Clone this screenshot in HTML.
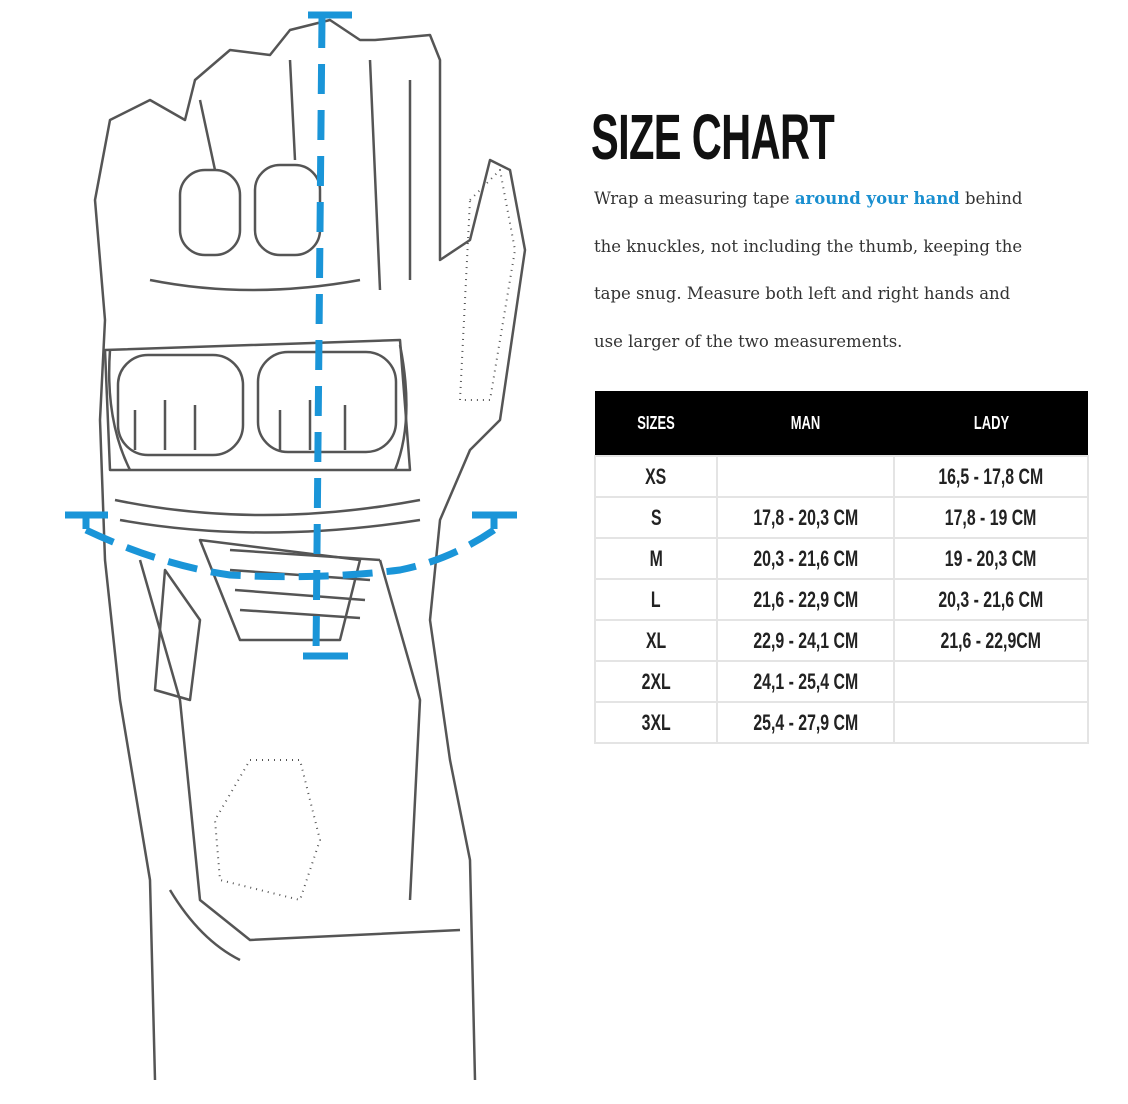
<!DOCTYPE html>
<html><head><meta charset="utf-8"><style>
body{margin:0;width:1128px;height:1104px;background:#fff;overflow:hidden;position:relative;font-family:"Liberation Sans",sans-serif}
.title{position:absolute;left:591px;top:100px;font:bold 64px "Liberation Sans",sans-serif;transform:scaleX(0.65);transform-origin:left top;color:#111;letter-spacing:-1px;white-space:nowrap}
.p{position:absolute;left:594px;top:175px;font:16.5px "DejaVu Serif",serif;line-height:47.5px;color:#333;width:520px;white-space:nowrap}
.p b{color:#1a8fd0}
table{position:absolute;left:594px;top:391px;border-collapse:collapse;width:495px;font:bold 22px "Liberation Sans",sans-serif;color:#222}
th{background:#000;color:#fff;height:62px;font-size:18px}
td{border:2px solid #e4e4e4;height:39px;text-align:center;padding:0}
td span,th span{display:inline-block;transform:scaleX(0.72);white-space:nowrap}
</style></head><body>
<svg width="560" height="1104" style="position:absolute;left:0;top:0" fill="none" stroke="#555" stroke-width="2.5" stroke-linejoin="round">
<path d="M155 1080 L150 880 L120 700 L105 560 L100 420 L105 320 L95 200 L110 120 L150 100 L185 120 L195 80 L230 50 L270 55 L290 30 L330 20 L360 40 L375 40 L430 35 L440 60 L440 260 L470 240 L490 160 L510 170 L525 250 L500 420 L470 450 L440 520 L430 620 L450 760 L470 860 L475 1080"/>
<path d="M105 350 L400 340 L410 470 L110 470 Z"/>
<path d="M110 350 Q105 420 130 470 M400 345 Q415 420 395 470"/>
<rect x="118" y="355" width="125" height="100" rx="30"/><rect x="258" y="352" width="138" height="100" rx="30"/>
<path d="M135 410v40M165 400v50M195 405v45M280 410v40M310 400v50M345 405v45"/>
<path d="M115 500 Q260 530 420 500 M120 520 Q260 545 420 520"/>
<rect x="180" y="170" width="60" height="85" rx="25"/><rect x="255" y="165" width="65" height="90" rx="25"/>
<path d="M150 280 Q250 300 360 280 M200 100 L215 170 M290 60 L295 160 M370 60 L380 290 M410 80 L410 280"/>
<path d="M165 570 L200 620 L190 700 L155 690 Z M200 540 L360 560 L340 640 L240 640 Z"/>
<path d="M230 550 L380 560 M230 570 L370 580 M235 590 L365 600 M240 610 L360 618"/>
<path d="M140 560 L180 700 L200 900 L250 940 L460 930 M380 560 L420 700 L410 900"/>
<path d="M250 760 L300 760 L320 840 L300 900 L220 880 L215 820 Z" stroke-dasharray="1 5" stroke-width="2"/>
<path d="M470 200 L500 170 L515 250 L490 400 L460 400 Z" stroke-dasharray="1 5" stroke-width="2"/>
<path d="M170 890 Q200 940 240 960"/>
<g stroke="#1a95d8" stroke-width="7" stroke-linejoin="miter">
<path d="M322 18 L316 655" stroke-dasharray="30 16"/>
<path d="M308 15 H352 M303 656 H348 M65 515 H108 M86 515 v14 M472 515 H517 M494 515 v14"/>
<path d="M86 530 Q160 565 230 575 Q320 580 400 570 Q450 560 494 530" stroke-dasharray="30 14"/>
</g>
</svg>
<div class="title">SIZE CHART</div>
<div class="p">Wrap a measuring tape <b>around your hand</b> behind<br>the knuckles, not including the thumb, keeping the<br>tape snug. Measure both left and right hands and<br>use larger of the two measurements.</div>
<table>
<tr><th style="width:120px"><span>SIZES</span></th><th style="width:175px"><span>MAN</span></th><th><span>LADY</span></th></tr>
<tr><td><span>XS</span></td><td></td><td><span>16,5 - 17,8 CM</span></td></tr>
<tr><td><span>S</span></td><td><span>17,8 - 20,3 CM</span></td><td><span>17,8 - 19 CM</span></td></tr>
<tr><td><span>M</span></td><td><span>20,3 - 21,6 CM</span></td><td><span>19 - 20,3 CM</span></td></tr>
<tr><td><span>L</span></td><td><span>21,6 - 22,9 CM</span></td><td><span>20,3 - 21,6 CM</span></td></tr>
<tr><td><span>XL</span></td><td><span>22,9 - 24,1 CM</span></td><td><span>21,6 - 22,9CM</span></td></tr>
<tr><td><span>2XL</span></td><td><span>24,1 - 25,4 CM</span></td><td></td></tr>
<tr><td><span>3XL</span></td><td><span>25,4 - 27,9 CM</span></td><td></td></tr>
</table>
</body></html>
